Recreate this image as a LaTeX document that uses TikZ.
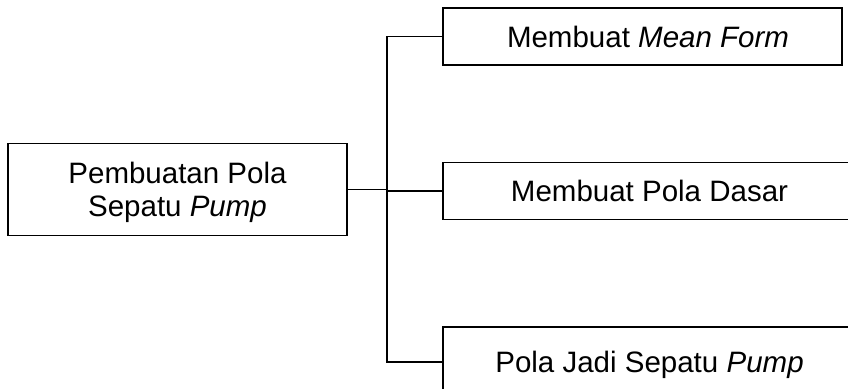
\documentclass[tikz,border=0pt]{standalone}
\usepackage{fontspec}
\setmainfont{Liberation Sans}
\begin{document}
\begin{tikzpicture}[x=1pt,y=-1pt,
  box/.style={draw, line width=1.9pt, inner sep=0pt, align=center,
    font=\fontsize{29.5}{33}\selectfont},
  one/.style={text height=21pt, text depth=0pt},
  conn/.style={line width=1.9pt}]
\clip (0,0) rectangle (848,388);
\useasboundingbox (0,0) rectangle (848,388);
\node[box, text depth=0pt, minimum width=339pt, minimum height=92pt] (L) at (177.5,189.5) {Pembuatan Pola\\Sepatu \textit{Pump}};
\node[box, one, minimum width=399pt, minimum height=57pt] (T) at (642.5,36.5) {\hspace*{11pt}Membuat \textit{Mean Form}};
\node[box, one, minimum width=413pt, minimum height=57pt] (M) at (649.5,191) {Membuat Pola Dasar};
\node[box, one, minimum width=413pt, minimum height=70pt] (B) at (649.5,362) {Pola Jadi Sepatu \textit{Pump}};
\coordinate (j) at (387,191);
\draw[conn] (L.east) -- (L.east -| j);
\draw[conn] (T.west) -| (j) |- (B.west);
\draw[conn] (M.west -| j) -- (M.west);
\end{tikzpicture}
\end{document}
